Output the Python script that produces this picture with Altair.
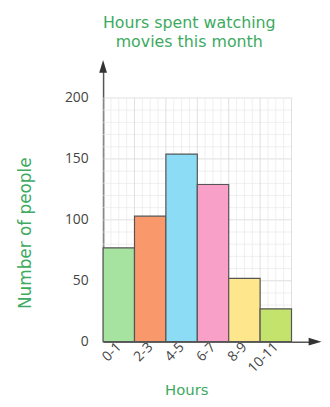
import altair as alt
import pandas as pd
import numpy as np

labels = ["0-1", "2-3", "4-5", "6-7", "8-9", "10-11"]
counts = [77, 103, 154, 129, 52, 27]
colors = ["#a6e3a1", "#f9986a", "#8ddcf6", "#f8a0c8", "#fde68c", "#c3e36d"]
y_ticks = [0, 50, 100, 150, 200]

X_MAX = 6.75
Y_MAX = 226
GRID_X = 6
GRID_Y = 200
GREEN = "#3daa5f"
FONT = "Open Sans"
TFONT = "DejaVu Sans"

df = pd.DataFrame({
    "label": labels,
    "count": counts,
    "start": list(range(len(labels))),
    "end": list(range(1, len(labels) + 1)),
    "color": colors,
})

xs = alt.Scale(domain=[0, X_MAX], nice=False, zero=False)
ys = alt.Scale(domain=[0, Y_MAX], nice=False)

label_js = "[" + ",".join("'%s'" % l for l in labels) + "]"

x_axis = alt.Axis(values=[i + 0.5 for i in range(len(labels))],
                  labelExpr=label_js + "[floor(datum.value)]",
                  labelAngle=-45, labelAlign="right", labelBaseline="middle",
                  labelOverlap=False,
                  ticks=False, grid=False, domainColor="#555555", domainWidth=1.5,
                  labelColor="#444444", labelFontSize=14, labelFont=FONT,
                  labelPadding=3, titleColor=GREEN, titleFont=TFONT,
                  titleFontSize=15, titleFontWeight="normal", titlePadding=8,
                  titleX=84)
y_axis = alt.Axis(values=y_ticks, ticks=False, grid=False,
                  domainColor="#555555", domainWidth=1.5,
                  labelColor="#444444", labelFontSize=14, labelFont=FONT,
                  labelPadding=15, titleColor=GREEN, titleFont=TFONT,
                  titleFontSize=17, titleFontWeight="normal", titlePadding=30,
                  titleY=168)
X_TITLE = "Hours"
Y_TITLE = "Number of people"

hy = np.arange(0, GRID_Y + 1, 10)
h_df = pd.DataFrame({"y": hy, "x": 0, "x2": GRID_X, "major": (hy % 50 == 0)})
vx = np.arange(0, GRID_X + 0.001, 0.25)
v_df = pd.DataFrame({"x": vx, "y": 0, "y2": GRID_Y, "major": (np.isclose(vx % 1, 0))})

h_grid = alt.Chart(h_df).mark_rule(strokeWidth=0.7).encode(
    x=alt.X("x:Q", scale=xs, axis=x_axis, title=X_TITLE),
    x2="x2",
    y=alt.Y("y:Q", scale=ys, axis=y_axis, title=Y_TITLE),
    color=alt.condition("datum.major", alt.value("#d2d2d2"), alt.value("#e8e8e8")),
)
v_grid = alt.Chart(v_df).mark_rule(strokeWidth=0.7).encode(
    x=alt.X("x:Q", scale=xs, axis=x_axis, title=X_TITLE),
    y=alt.Y("y:Q", scale=ys, axis=y_axis, title=Y_TITLE),
    y2="y2",
    color=alt.condition("datum.major", alt.value("#d2d2d2"), alt.value("#e8e8e8")),
)

bars = alt.Chart(df).mark_bar(stroke="#555555", strokeWidth=1.2).encode(
    x=alt.X("start:Q", scale=xs, axis=x_axis, title=X_TITLE),
    x2="end:Q",
    y=alt.Y("count:Q", scale=ys, axis=y_axis, title=Y_TITLE),
    y2=alt.datum(0),
    color=alt.Color("color:N", scale=None),
)

arrow_df = pd.DataFrame({
    "x": [0, X_MAX], "y": [Y_MAX, 0],
    "shape": ["M0,-1 L0.6,1 L-0.6,1 Z", "M1,0 L-1,0.6 L-1,-0.6 Z"],
})
arrows = alt.Chart(arrow_df).mark_point(filled=True, size=169, color="#333333", opacity=1).encode(
    x=alt.X("x:Q", scale=xs, axis=x_axis, title=X_TITLE),
    y=alt.Y("y:Q", scale=ys, axis=y_axis, title=Y_TITLE),
    shape=alt.Shape("shape:N", scale=None),
)

chart = alt.layer(h_grid, v_grid, bars, arrows).properties(
    width=214, height=278,
    padding={"left": 8, "right": 0, "top": 5, "bottom": 0},
    title=alt.TitleParams(["Hours spent watching", "movies this month"], color=GREEN,
                          fontSize=16, fontWeight="normal", font=TFONT,
                          anchor="middle", dx=-20, offset=10, lineHeight=19),
).configure_view(stroke=None)

chart.save("out.html", embed_options={"renderer": "svg", "actions": False})
